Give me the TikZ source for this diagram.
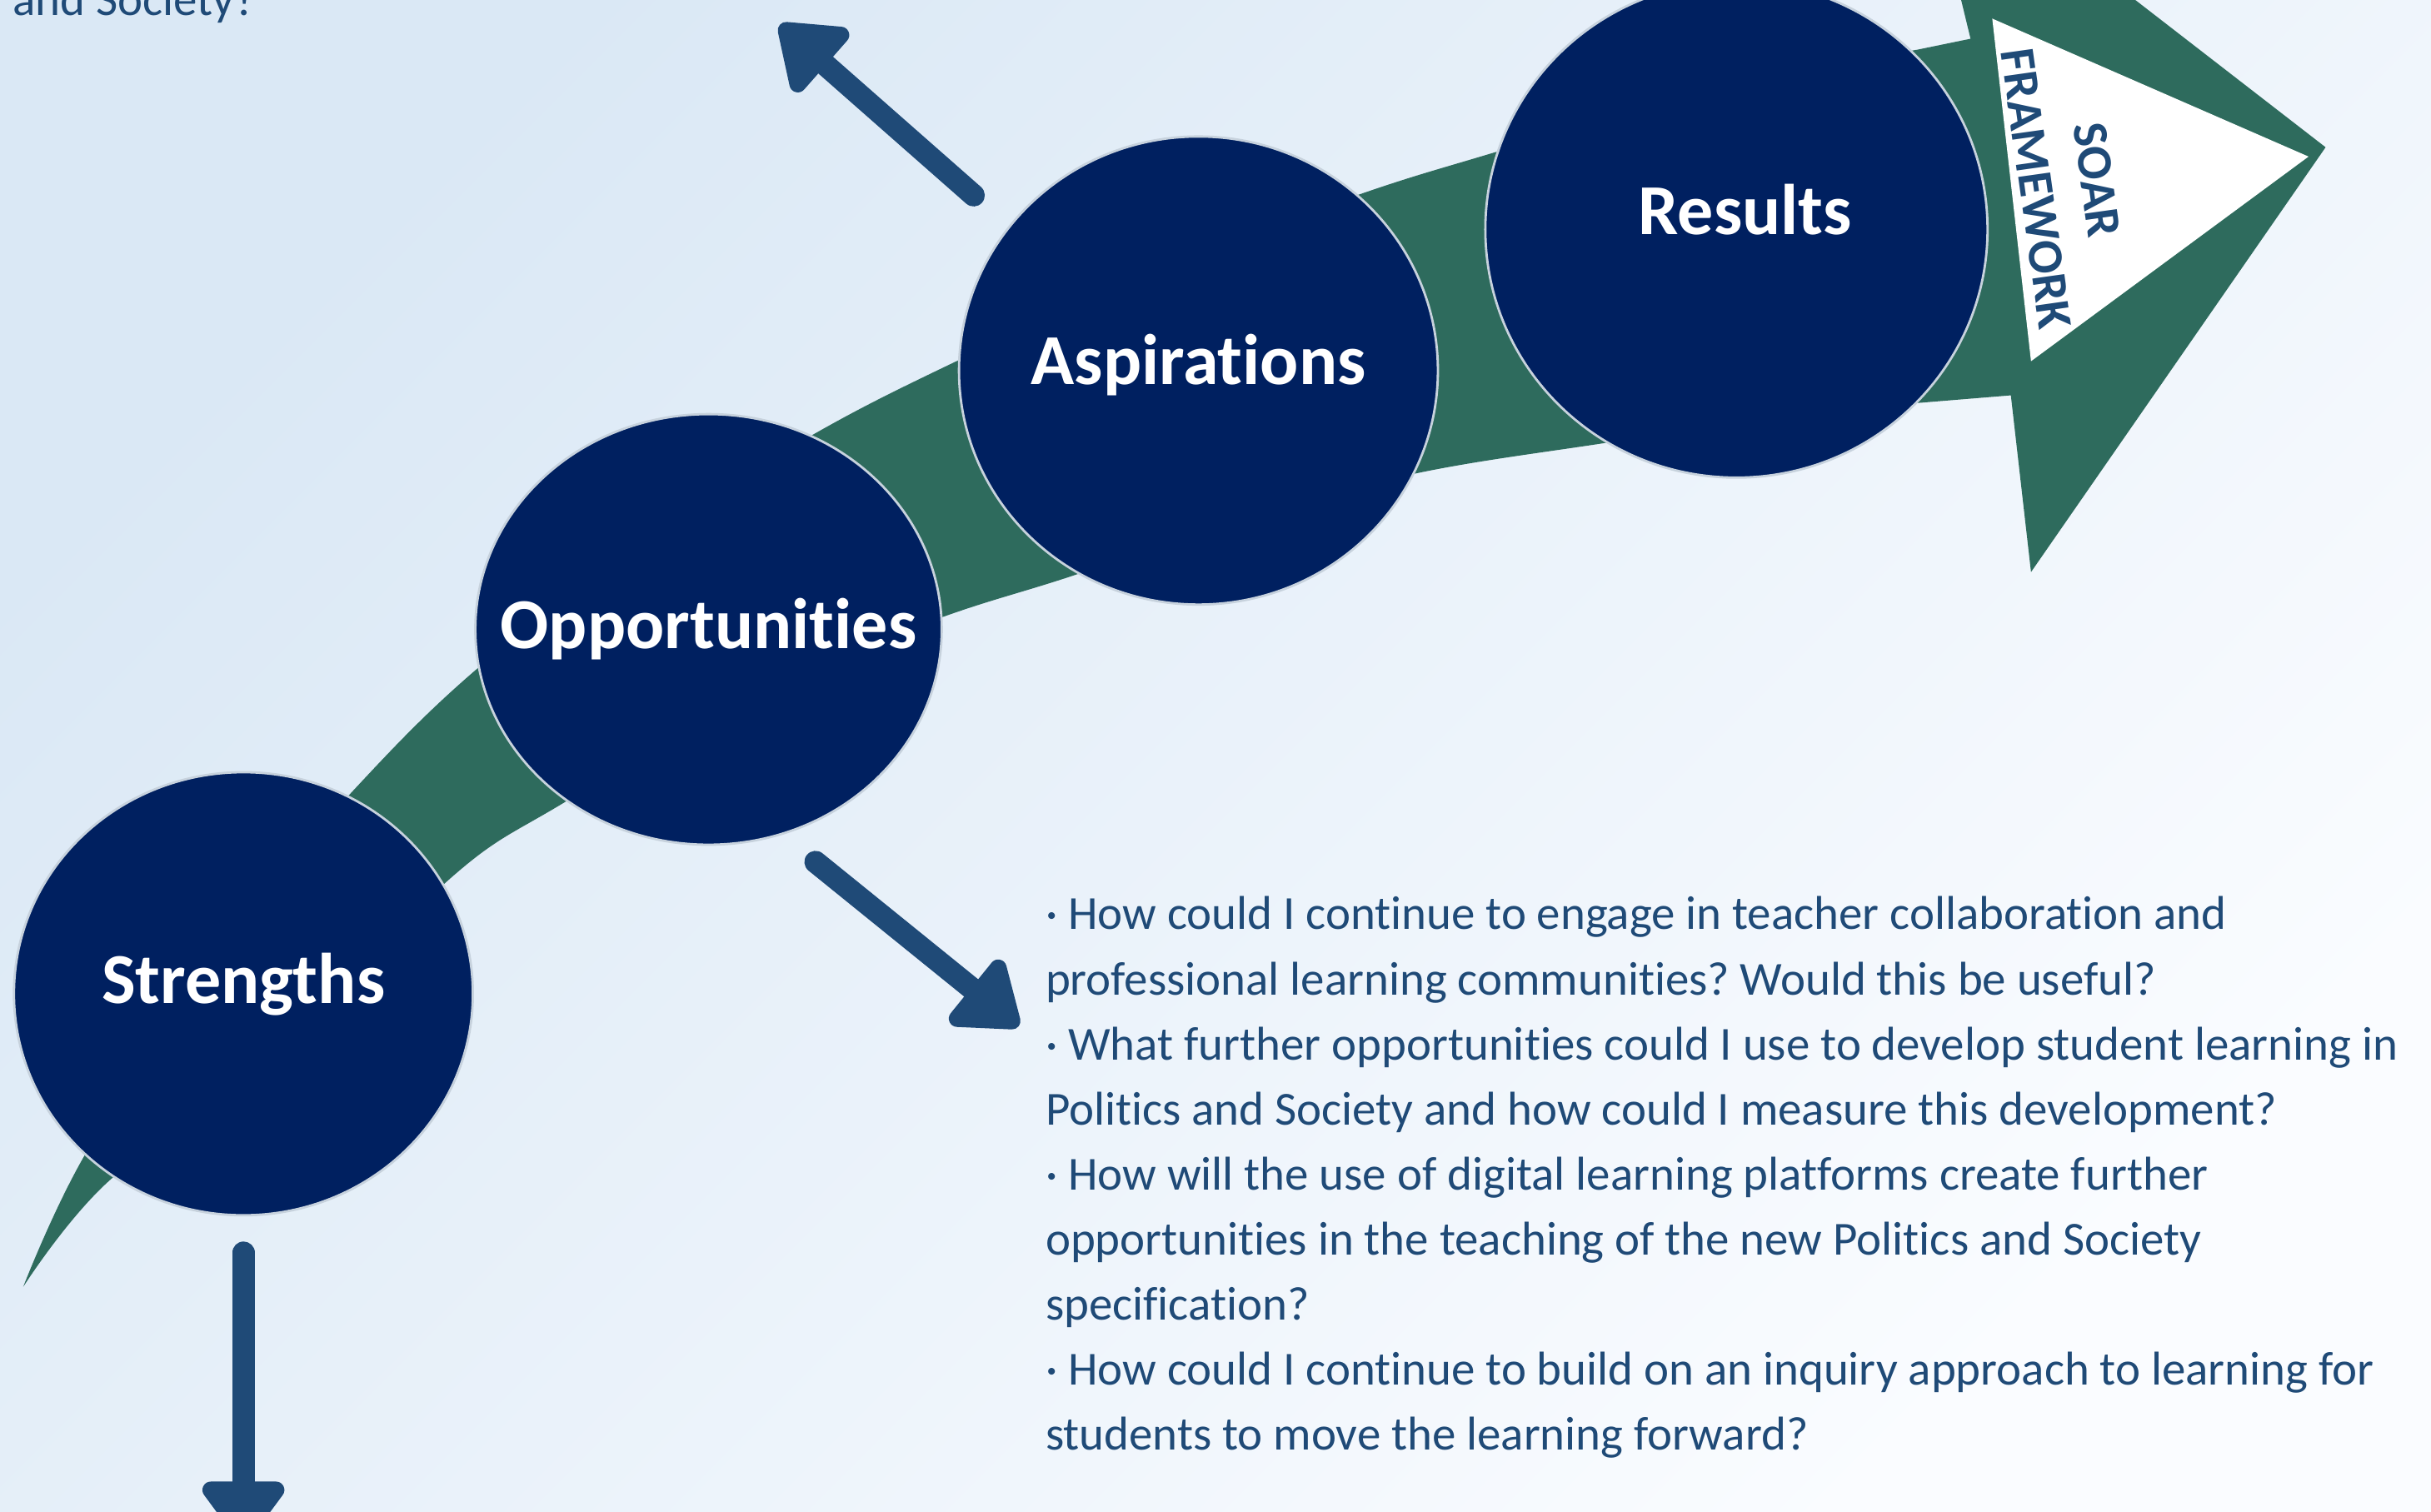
\documentclass[tikz,border=0pt]{standalone}
\usepackage{fontspec}
\setmainfont{Carlito}[Ligatures=NoCommon]
\frenchspacing
\usetikzlibrary{arrows.meta,shapes.geometric}

\definecolor{soarnavy}{HTML}{002060}
\definecolor{soargreen}{HTML}{2E6B5D}
\definecolor{soarblue}{HTML}{1F4A77}
\definecolor{bgtop}{HTML}{DAE8F5}
\definecolor{bgbot}{HTML}{FAFCFF}

\begin{document}
\begin{tikzpicture}[x=0.01861cm, y=-0.01861cm,
    stage/.style={ellipse, fill=soarnavy, draw=white!75!soarblue, line width=0.8pt, inner sep=0pt},
    stagetext/.style={text=white, inner sep=0pt, font=\fontsize{24.5}{28}\selectfont\bfseries},
    pointer/.style={draw=soarblue, line width=7.6pt, line cap=round,
        -{Triangle[width=32pt,length=23pt,round]}},
    body/.style={text=soarblue, inner sep=0pt, align=left,
        font=\fontsize{16.2}{22.24}\selectfont}]

    % background
    \useasboundingbox (0,0) rectangle (1568,975);
    \shade[top color=bgtop, bottom color=bgbot, shading angle=45] (0,0) rectangle (1568,975);

    % green band with arrow head
    \fill[soargreen] plot[smooth, tension=0.6] coordinates {(15,830) (53,748) (135,617) (225,513)
        (307,432) (420,345) (525,280) (619,232) (750,172) (878,125) (965,98) (1100,58) (1237,32)}
        -- (1271,25) -- (1239,-107) -- (1500,95) -- (1310,369) -- (1297,255)
        -- plot[smooth, tension=0.6] coordinates {(1236,260) (1150,268) (1040,285) (915,305)
        (800,335) (690,372) (608,398) (500,440) (365,517) (290,567) (180,680) (70,762) (15,830)}
        -- cycle;
    \fill[white] (1285,12) -- (1489,101) -- (1310,233) -- cycle;
    \node[text=soarblue, font=\fontsize{17}{21}\selectfont\bfseries, align=center,
        rotate=-82, inner sep=0pt] (F) at (1333,119) {SOAR\\FRAMEWORK};

    % the four stages
    \node[stage, minimum width=5.51cm, minimum height=5.32cm] (S) at (157,641) {};
    \node[stage, minimum width=5.60cm, minimum height=5.17cm] (O) at (457,406) {};
    \node[stage, minimum width=5.75cm, minimum height=5.62cm] (A) at (773,239) {};
    \node[stage, minimum width=6.03cm, minimum height=5.96cm] (R) at (1120,148) {};
    \node[stagetext] (s) at ([yshift=3.2pt]S.center) {Strengths};
    \node[stagetext] (o) at (O.center) {Opportunities};
    \node[stagetext] (a) at ([yshift=2pt]A.center) {Aspirations};
    \node[stagetext] (r) at ([xshift=3pt,yshift=6.8pt]R.center) {Results};

    % pointers
    \coordinate (a1) at (628,126);
    \coordinate (a1t) at (503,16);
    \coordinate (o1) at (526,556);
    \coordinate (o1t) at (657,662);
    \coordinate (s1) at (157,808);
    \coordinate (s1t) at (157,995);
    \draw[pointer] (a1) -- (a1t);
    \draw[pointer] (o1) -- (o1t);
    \draw[pointer] (s1) -- (s1t);

    % texts
    \node[body, anchor=base west] (T) at (8,10) {and Society?};
    \node[body, anchor=north west] (Q) at (674,578) {%
        · How could I continue to engage in teacher collaboration and\\
        professional learning communities? Would this be useful?\\
        · What further opportunities could I use to develop student learning in\\
        Politics and Society and how could I measure this development?\\
        · How will the use of digital learning platforms create further\\
        opportunities in the teaching of the new Politics and Society\\
        specification?\\
        · How could I continue to build on an inquiry approach to learning for\\
        students to move the learning forward?};

\end{tikzpicture}
\end{document}
